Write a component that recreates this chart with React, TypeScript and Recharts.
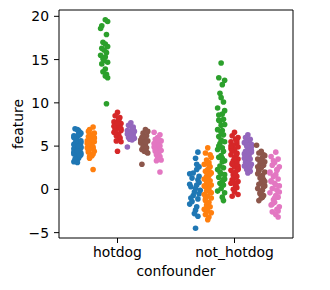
import { ScatterChart, Scatter, XAxis, YAxis, ReferenceArea, Label } from 'recharts';

const categories = ['hotdog', 'not_hotdog'];
const hueColors = ['#1f77b4', '#ff7f0e', '#2ca02c', '#d62728', '#9467bd', '#8c564b', '#e377c2'];
const yTicks = [-5, 0, 5, 10, 15, 20];

// each point: [jitter, feature]
const hotdogBlue = [
  [-0.02, 4.8], [0.01, 5.2], [-0.03, 4.1], [0.02, 6.3], [-0.01, 3.7], [0.03, 5.6], [0.0, 4.4], [-0.02, 5.0], [0.01, 6.8], [-0.03, 3.2],
  [0.02, 4.6], [-0.01, 5.9], [0.03, 4.0], [-0.02, 5.3], [0.0, 6.1], [0.02, 3.9], [-0.03, 4.7], [0.01, 5.5], [-0.01, 3.4], [0.03, 6.5],
  [-0.02, 4.3], [0.02, 5.1], [0.0, 4.9], [-0.03, 6.0], [0.01, 3.6], [0.03, 4.2], [-0.01, 5.7], [0.02, 6.6], [-0.02, 3.3], [0.0, 4.5],
  [0.03, 5.4], [-0.03, 6.2], [0.01, 3.8], [-0.01, 5.8], [0.02, 4.6], [-0.02, 7.0], [0.0, 3.1], [0.03, 4.9], [-0.03, 5.2], [0.01, 6.4],
  [-0.01, 4.0], [0.02, 5.5], [-0.02, 3.5], [0.03, 4.8], [0.0, 6.9], [-0.03, 4.3], [0.01, 5.0], [0.02, 3.9], [-0.01, 5.6], [0.0, 4.4],
];
const hotdogOrange = [
  [0.02, 7.2], [-0.01, 6.9], [0.03, 6.5], [-0.02, 6.1], [0.01, 5.8], [0.03, 5.5], [-0.03, 5.3], [0.0, 5.0], [0.02, 4.7], [-0.02, 4.3],
  [0.01, 3.9], [-0.01, 3.6], [0.03, 6.0], [-0.03, 5.6], [0.0, 5.2], [0.02, 4.9], [-0.02, 4.5], [0.01, 6.3], [0.03, 5.9], [-0.01, 5.4],
  [-0.03, 4.8], [0.02, 4.1], [0.0, 5.7], [-0.02, 6.7], [0.01, 5.1], [0.03, 4.4], [-0.01, 3.8], [0.02, 2.3], [-0.02, 5.3], [0.0, 6.2],
];
const hotdogGreen = [
  [0.01, 19.6], [0.03, 19.4], [-0.02, 18.9], [-0.03, 18.6], [0.02, 17.9], [-0.01, 17.0], [0.01, 16.8], [0.03, 16.5], [-0.02, 16.3], [0.0, 16.1],
  [0.02, 15.8], [-0.03, 15.5], [0.01, 15.3], [-0.01, 15.1], [0.0, 14.9], [0.03, 14.7], [-0.02, 14.5], [0.01, 13.9], [-0.01, 13.6], [0.02, 13.3],
  [0.01, 13.1], [0.03, 12.9], [0.02, 9.9],
];
const hotdogRed = [
  [0.0, 8.9], [-0.02, 8.5], [0.02, 8.3], [0.01, 8.0], [-0.03, 7.8], [0.03, 7.6], [-0.01, 7.4], [0.02, 7.2], [0.0, 7.1], [-0.02, 6.9],
  [0.03, 6.8], [-0.03, 6.6], [0.01, 6.4], [-0.01, 6.2], [0.02, 6.0], [-0.02, 7.5], [0.0, 7.7], [0.03, 7.0], [-0.03, 7.3], [0.01, 8.1],
  [0.02, 5.9], [-0.01, 5.6], [0.03, 5.5], [0.0, 4.4], [-0.02, 6.7],
];
const hotdogPurple = [
  [0.0, 7.7], [-0.02, 7.4], [0.02, 7.2], [0.01, 7.0], [-0.03, 6.8], [0.03, 6.7], [-0.01, 6.5], [0.02, 6.3], [0.0, 6.1], [-0.02, 6.0],
  [0.03, 5.9], [-0.03, 6.4], [0.01, 6.6], [-0.01, 5.8], [0.02, 6.9], [0.0, 6.2], [-0.03, 4.9], [0.01, 5.7],
];
const hotdogBrown = [
  [0.01, 6.9], [0.03, 6.7], [-0.01, 6.5], [0.02, 6.2], [-0.02, 6.0], [0.0, 5.8], [0.03, 5.6], [-0.03, 5.4], [0.01, 5.2], [-0.01, 5.0],
  [0.02, 4.8], [-0.02, 4.6], [0.0, 4.4], [0.03, 4.2], [-0.03, 5.7], [0.01, 5.5], [-0.01, 6.1], [0.02, 4.3], [-0.02, 2.9],
];
const hotdogPink = [
  [-0.03, 6.6], [0.02, 6.3], [0.0, 6.0], [-0.02, 5.8], [0.03, 5.6], [0.01, 5.4], [-0.01, 5.2], [0.02, 5.0], [-0.03, 4.9], [0.0, 4.7],
  [0.03, 4.5], [-0.02, 4.4], [0.01, 4.2], [-0.01, 4.0], [0.02, 3.8], [-0.03, 5.3], [0.0, 3.6], [0.03, 3.4], [-0.01, 3.3], [0.02, 2.0],
  [0.01, 5.7], [-0.02, 4.6],
];

const notBlue = [
  [0.03, 4.3], [0.01, 3.6], [0.02, 2.9], [-0.04, 1.8], [0.04, 1.5], [0.03, 1.1], [-0.04, 0.6], [0.01, 0.1], [0.05, -0.1], [-0.01, -0.7],
  [-0.04, -1.7], [0.01, -2.4], [0.03, -3.1], [0.01, -4.5], [0.02, 2.3], [-0.02, 1.3], [0.04, 0.8], [-0.03, 0.3], [0.0, -0.3], [0.03, -1.1],
  [-0.02, -1.4], [0.02, -2.0], [0.04, -0.5], [-0.01, 1.9], [0.0, -2.8], [0.02, 0.5], [-0.03, -1.0], [0.04, 2.6],
];
const notOrange = [
  [0.0, 4.8], [-0.02, 4.2], [0.02, 4.0], [0.03, 3.7], [-0.01, 3.4], [0.01, 3.1], [-0.03, 2.9], [0.02, 2.6], [0.0, 2.3], [-0.02, 2.1],
  [0.03, 1.9], [0.01, 1.6], [-0.01, 1.5], [-0.03, 1.2], [0.02, 1.0], [0.0, 0.7], [0.03, 0.5], [-0.02, 0.3], [0.01, 0.1], [-0.01, -0.2],
  [0.02, -0.3], [-0.03, -0.6], [0.0, -0.8], [0.03, -1.0], [-0.02, -1.3], [0.01, -1.5], [-0.01, -1.8], [0.02, -2.0], [-0.03, -2.3], [0.0, -2.5],
  [0.03, -2.7], [-0.02, -2.9], [0.01, -3.2], [0.0, -3.5], [-0.01, 0.9], [0.02, 2.0], [-0.03, 0.4], [0.03, -0.4], [0.0, 1.3], [-0.02, -1.1],
  [0.01, 2.8], [-0.01, -2.1], [0.02, 1.8], [0.0, -0.1],
];
const notGreen = [
  [0.0, 14.6], [-0.02, 12.9], [0.03, 12.6], [0.01, 12.1], [-0.01, 11.1], [0.0, 10.6], [0.02, 10.1], [-0.03, 9.4], [0.03, 9.1], [0.01, 8.7],
  [-0.02, 8.6], [0.02, 8.1], [-0.01, 7.9], [0.03, 7.5], [0.0, 7.4], [-0.03, 6.9], [0.01, 6.8], [0.02, 6.3], [-0.02, 6.1], [0.0, 5.7],
  [0.03, 5.5], [-0.01, 5.3], [0.01, 4.8], [-0.03, 4.6], [0.02, 4.4], [0.0, 3.9], [-0.02, 3.7], [0.03, 3.3], [0.01, 3.2], [-0.01, 2.7],
  [0.02, 2.5], [-0.03, 2.3], [0.0, 1.8], [0.03, 1.7], [-0.02, 1.4], [0.01, 0.9], [-0.01, 0.7], [0.02, 0.5], [0.0, 0.1], [-0.03, -0.2],
  [0.03, -0.4], [0.01, -0.9], [0.02, -1.3], [-0.02, 5.0], [0.01, 3.6], [-0.01, 2.0], [0.02, 1.1], [0.0, 6.6], [-0.02, 8.0], [0.03, 1.2],
];
const notRed = [
  [0.0, 6.6], [-0.02, 6.2], [0.03, 6.0], [0.01, 5.8], [-0.03, 5.5], [0.02, 5.3], [-0.01, 5.1], [0.03, 4.9], [0.0, 4.6], [-0.02, 4.4],
  [0.02, 4.2], [-0.03, 4.0], [0.01, 3.8], [0.03, 3.5], [-0.01, 3.3], [0.02, 3.1], [-0.02, 2.9], [0.0, 2.6], [0.03, 2.4], [-0.03, 2.2],
  [0.01, 2.0], [-0.01, 1.8], [0.02, 1.5], [0.0, 1.3], [-0.02, 1.1], [0.03, 0.9], [-0.03, 0.7], [0.01, 0.4], [0.02, 0.2], [-0.01, 0.0],
  [0.0, -0.3], [0.03, -0.6], [-0.02, -0.8], [0.02, 5.6], [-0.03, 4.7], [0.0, 3.6], [0.03, 2.7], [-0.01, 1.6], [0.01, 0.6], [-0.02, 3.0],
  [0.02, 4.1], [0.0, 1.9], [-0.03, 5.0], [0.03, 2.3], [-0.01, 0.8],
];
const notPurple = [
  [0.0, 6.3], [-0.02, 6.0], [0.02, 5.8], [0.01, 5.6], [-0.03, 5.4], [0.03, 5.2], [-0.01, 5.0], [0.02, 4.8], [0.0, 4.6], [-0.02, 4.4],
  [0.03, 4.3], [-0.03, 4.1], [0.01, 3.9], [-0.01, 3.7], [0.02, 3.5], [0.0, 3.3], [-0.02, 3.1], [0.03, 2.9], [-0.03, 2.7], [0.01, 2.5],
  [-0.01, 2.3], [0.02, 2.1], [0.0, 1.9], [-0.02, 5.5], [0.03, 4.9], [0.01, 4.2], [-0.03, 3.6], [0.0, 3.0], [0.02, 2.6], [-0.01, 5.1],
  [0.03, 4.5], [-0.02, 3.8],
];
const notBrown = [
  [-0.04, 5.1], [0.0, 4.4], [-0.02, 4.2], [0.02, 4.0], [0.01, 3.7], [-0.03, 3.5], [0.03, 3.2], [-0.01, 3.0], [0.02, 2.8], [0.0, 2.5],
  [-0.02, 2.3], [0.03, 2.0], [-0.03, 1.8], [0.01, 1.6], [-0.01, 1.3], [0.02, 1.1], [0.0, 0.8], [-0.02, 0.6], [0.03, 0.4], [-0.03, 0.1],
  [0.01, -0.1], [-0.01, -0.4], [0.02, -0.7], [0.0, -1.0], [-0.02, -1.3], [0.03, 3.9], [-0.03, 2.6], [0.01, 1.4], [0.02, 0.3], [-0.01, -0.5],
  [0.0, 3.3], [-0.02, 2.1], [0.03, 0.9], [0.01, -0.9],
];
const notPink = [
  [0.01, 4.3], [-0.03, 3.8], [0.03, 3.5], [0.0, 3.1], [-0.02, 2.8], [0.04, 2.6], [0.02, 2.3], [-0.04, 2.0], [0.01, 1.7], [-0.01, 1.5],
  [0.03, 1.2], [-0.03, 0.9], [0.0, 0.7], [0.04, 0.4], [-0.02, 0.1], [0.02, -0.1], [-0.04, -0.4], [0.01, -0.7], [0.03, -0.9], [-0.01, -1.2],
  [0.0, -1.5], [-0.03, -1.8], [0.04, -2.0], [0.02, -2.3], [-0.02, -2.6], [0.01, -2.9], [0.03, -3.2], [-0.01, 3.3], [0.02, 2.2], [-0.03, 1.0],
  [0.04, -0.3], [0.0, -1.0], [-0.02, -1.7], [0.03, -2.5], [0.01, 0.5], [-0.04, 1.9],
];

const groups = [
  [hotdogBlue, hotdogOrange, hotdogGreen, hotdogRed, hotdogPurple, hotdogBrown, hotdogPink],
  [notBlue, notOrange, notGreen, notRed, notPurple, notBrown, notPink],
];

const FONT = 'DejaVu Sans';
const Y_MIN = -5.62;
const Y_MAX = 20.73;
const nHue = hueColors.length;
const hueWidth = 0.8 / nHue;

const fmtY = (v: number) => (v < 0 ? `\u2212${Math.abs(v)}` : `${v}`);

export default function App() {
  const series = [];
  groups.forEach((hueGroups, ci) => {
    hueGroups.forEach((pts, hi) => {
      const offset = -0.4 + hueWidth * (hi + 0.5);
      series.push({
        key: `${ci}-${hi}`,
        color: hueColors[hi],
        data: pts.map(([dx, y]) => ({ x: ci + offset + dx, y })),
      });
    });
  });

  return (
    <div style={{ position: 'absolute', left: 0, top: 0, width: 330, height: 290, background: '#fff', fontFamily: FONT }}>
      <ScatterChart width={330} height={290} margin={{ top: 10, right: 37, bottom: 0, left: 0 }}>
        <XAxis
          type="number"
          dataKey="x"
          domain={[-0.5, 1.5]}
          ticks={[0, 1]}
          tickFormatter={(v: number) => categories[v] ?? ''}
          allowDataOverflow
          axisLine={false}
          tickLine={{ stroke: '#000' }}
          tickSize={5}
          tickMargin={4}
          height={52}
          tick={{ fill: '#000', fontSize: 13.9, fontFamily: FONT }}
        >
          <Label value="confounder" position="insideBottom" offset={14} fill="#000" fontSize={13.9} fontFamily={FONT} />
        </XAxis>
        <YAxis
          type="number"
          dataKey="y"
          domain={[Y_MIN, Y_MAX]}
          ticks={yTicks}
          tickFormatter={fmtY}
          allowDataOverflow
          axisLine={false}
          tickLine={{ stroke: '#000' }}
          tickSize={5}
          tickMargin={5}
          width={59}
          tick={{ fill: '#000', fontSize: 13.9, fontFamily: FONT }}
        >
          <Label value="feature" angle={-90} position="center" dx={-11} fill="#000" fontSize={13.9} fontFamily={FONT} />
        </YAxis>
        {series.map((s) => (
          <Scatter
            key={s.key}
            data={s.data}
            isAnimationActive={false}
            shape={(p: any) => <circle cx={p.cx} cy={p.cy} r={2.8} fill={s.color} />}
          />
        ))}
        <ReferenceArea
          x1={-0.5}
          x2={1.5}
          y1={Y_MIN}
          y2={Y_MAX}
          fill="none"
          stroke="#000"
          strokeWidth={1}
          ifOverflow="visible"
        />
      </ScatterChart>
    </div>
  );
}
